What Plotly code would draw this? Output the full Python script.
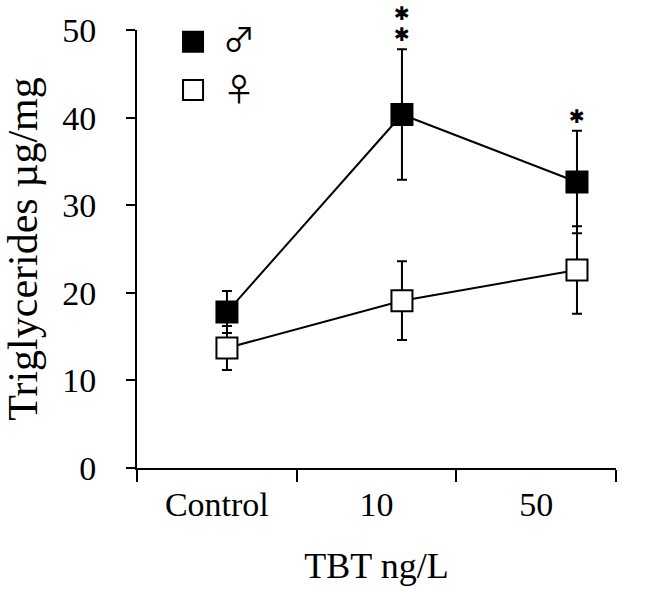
import plotly.graph_objects as go

# ---- data ----
categories = ["Control", "10", "50"]
male_mean = [17.8, 40.35, 32.65]
male_err = [2.4, 7.45, 5.85]
female_mean = [13.7, 19.1, 22.6]
female_err = [2.5, 4.5, 5.0]
male_sig = ["", "✱✱", "✱"]
y_ticks = [0, 10, 20, 30, 40, 50]

FONT = "Liberation Serif, Times New Roman, serif"

fig = go.Figure()

fig.add_trace(go.Scatter(
    x=categories, y=female_mean, mode="lines+markers", name="♀",
    line=dict(color="black", width=2),
    marker=dict(symbol="square", size=21, color="white", line=dict(color="black", width=2)),
    error_y=dict(type="data", array=female_err, thickness=2, width=5, color="black"),
    showlegend=False, cliponaxis=False,
))
fig.add_trace(go.Scatter(
    x=categories, y=male_mean, mode="lines+markers", name="♂",
    line=dict(color="black", width=2),
    marker=dict(symbol="square", size=21, color="black", line=dict(color="black", width=2)),
    error_y=dict(type="data", array=male_err, thickness=2, width=5, color="black"),
    showlegend=False, cliponaxis=False,
))
# dummy trace for frame axis
fig.add_trace(go.Scatter(x=[None], y=[None], xaxis="x2", yaxis="y", showlegend=False, mode="none"))

# significance asterisks
for i, (m, e, s) in enumerate(zip(male_mean, male_err, male_sig)):
    for k, ch in enumerate(s):
        fig.add_annotation(
            x=i, y=m + e, xref="x", yref="y", text=ch, showarrow=False,
            yanchor="middle", yshift=15 + 21 * k,
            font=dict(family="DejaVu Sans", size=19, color="black"),
        )

# legend (manual)
legend_items = [("♂", "black", 0.973, 0.985), ("♀", "white", 0.863, 0.870)]
for sym, fill, yy, ty in legend_items:
    fig.add_shape(type="rect", xref="paper", yref="paper",
                  xsizemode="pixel", ysizemode="pixel",
                  xanchor=0.117, yanchor=yy, x0=-10, x1=10, y0=-10, y1=10,
                  fillcolor=fill, line=dict(color="black", width=2))
    fig.add_annotation(xref="paper", yref="paper", x=0.212, y=ty, text=sym,
                       showarrow=False, xanchor="center", yanchor="middle",
                       font=dict(family="Noto Sans CJK JP", size=32, color="black"))

fig.update_layout(
    width=672, height=592,
    margin=dict(l=137, r=56, t=30, b=124, autoexpand=False),
    paper_bgcolor="white", plot_bgcolor="white",
    font=dict(family=FONT, size=34, color="black"),
    xaxis=dict(type="category", categoryarray=categories, range=[-0.514, 2.223],
               visible=False),
    xaxis2=dict(overlaying="x", side="bottom", anchor="y", range=[0, 3],
                tickmode="array", tickvals=[0.5, 1.5, 2.5], ticktext=categories,
                ticks="", showline=True, linecolor="black", linewidth=2,
                showgrid=False, zeroline=False, ticklabelstandoff=5, automargin=False,
                tickfont=dict(family=FONT, size=34, color="black"),
                minor=dict(tickmode="array", tickvals=[0, 1, 2, 3], ticks="outside",
                           ticklen=12, tickwidth=2, tickcolor="black", showgrid=False),
                title=dict(text="TBT ng/L", font=dict(family=FONT, size=36, color="black"), standoff=31)),
    yaxis=dict(range=[0, 50], tickmode="array", tickvals=y_ticks,
               ticks="outside", ticklen=9, tickwidth=2, tickcolor="black",
               showline=True, linecolor="black", linewidth=2, automargin=False,
               showgrid=False, zeroline=False, ticklabelstandoff=23,
               tickfont=dict(family=FONT, size=34, color="black"),
               title=dict(text="Triglycerides µg/mg", font=dict(family=FONT, size=42, color="black"), standoff=47)),
)

fig.write_html("out.html", config={"displayModeBar": False},
               post_script="document.body.style.margin='0';")
